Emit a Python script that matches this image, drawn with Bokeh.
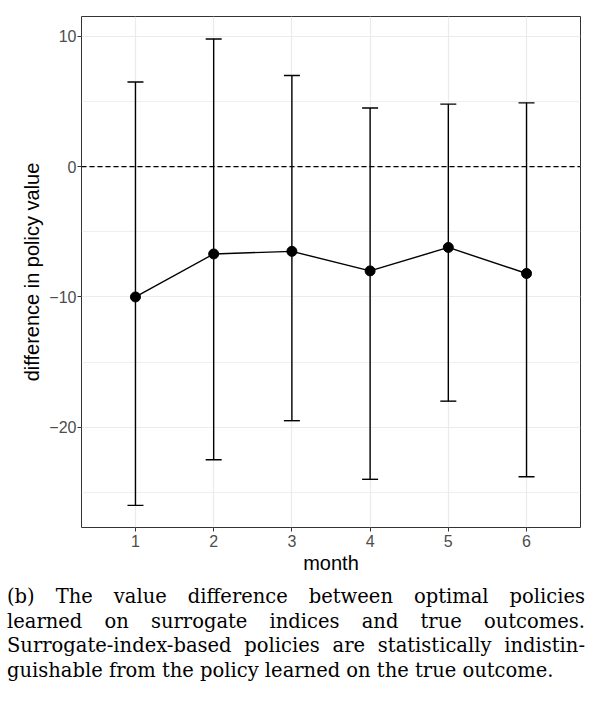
from bokeh.plotting import figure
from bokeh.models import ColumnDataSource, Whisker, TeeHead, Span, FixedTicker, Div, Range1d
from bokeh.layouts import column
from bokeh.embed import file_html
from bokeh.resources import INLINE

months = [1, 2, 3, 4, 5, 6]
estimate = [-10.0, -6.7, -6.5, -8.0, -6.2, -8.2]
upper = [6.5, 9.8, 7.0, 4.5, 4.8, 4.9]
lower = [-26.0, -22.5, -19.5, -24.0, -18.0, -23.8]

y_ticks = [-20, -10, 0, 10]
y_minor = [-25, -15, -5, 5]
y_tick_labels = ["\u221220", "\u221210", "0", "10"]
x_tick_labels = ["1", "2", "3", "4", "5", "6"]

x_label = "month"
y_label = "difference in policy value"

caption_lines = [
    "(b) The value difference between optimal policies",
    "learned on surrogate indices and true outcomes.",
    "Surrogate-index-based policies are statistically indistin-",
    "guishable from the policy learned on the true outcome.",
]

src = ColumnDataSource(dict(month=months, est=estimate, upper=upper, lower=lower))

FIG_H = 580
FIG_W = 592
p = figure(width=FIG_W, height=FIG_H, output_backend="svg", toolbar_location=None,
           x_range=Range1d(0.31, 6.69), y_range=Range1d(-27.7, 11.53),
           min_border_left=81, min_border_right=FIG_W - 580, min_border_top=16,
           min_border_bottom=FIG_H - 527)

p.background_fill_color = "white"
p.border_fill_color = "white"
p.outline_line_color = "#333333"
p.outline_line_width = 1

# grid
p.xgrid.ticker = FixedTicker(ticks=months)
p.xgrid.grid_line_color = "#EBEBEB"
p.xgrid.grid_line_width = 1.2
p.ygrid.grid_line_color = "#EBEBEB"
p.ygrid.grid_line_width = 1.2
p.ygrid.minor_grid_line_color = "#EBEBEB"
p.ygrid.minor_grid_line_width = 0.8

# axes
p.xaxis.ticker = FixedTicker(ticks=months)
p.xaxis.major_label_overrides = {m: l for m, l in zip(months, x_tick_labels)}
p.yaxis.ticker = FixedTicker(ticks=y_ticks, minor_ticks=y_minor)
p.yaxis.major_label_overrides = {t: l for t, l in zip(y_ticks, y_tick_labels)}

for ax in (p.xaxis, p.yaxis):
    ax.axis_line_color = None
    ax.major_tick_line_color = "#333333"
    ax.major_tick_out = 4
    ax.major_tick_in = 0
    ax.minor_tick_line_color = None
    ax.major_label_text_font = "Liberation Sans"
    ax.major_label_text_font_size = "16px"
    ax.major_label_text_color = "#4D4D4D"
    ax.axis_label_text_font = "Liberation Sans"
    ax.axis_label_text_font_size = "20px"
    ax.axis_label_text_font_style = "normal"
    ax.axis_label_text_color = "black"

p.xaxis.axis_label = x_label
p.yaxis.axis_label = y_label
p.xaxis.major_label_standoff = 3
p.yaxis.major_label_standoff = 1
p.xaxis.axis_label_standoff = 2
p.yaxis.axis_label_standoff = 3

# zero reference line
p.add_layout(Span(location=0, dimension="width", line_color="black",
                  line_width=1.3, line_dash="5 3"))

# error bars
w = Whisker(source=src, base="month", upper="upper", lower="lower",
            line_color="black", line_width=1.4,
            upper_head=TeeHead(size=16, line_color="black", line_width=1.4),
            lower_head=TeeHead(size=16, line_color="black", line_width=1.4))
p.add_layout(w)

p.line("month", "est", source=src, line_color="black", line_width=1.4)
p.scatter("month", "est", source=src, size=10, fill_color="black", line_color="black")

line_style_j = "text-align:justify;text-align-last:justify;white-space:nowrap;"
line_style_l = "text-align:left;white-space:nowrap;"
html = "".join(
    f'<div style="{line_style_j if i < len(caption_lines) - 1 else line_style_l}">{t}</div>'
    for i, t in enumerate(caption_lines)
)
div = Div(text=f'<div style="font-family:\'DejaVu Serif\';font-size:19.5px;line-height:24.5px;color:#000;width:578px;margin-left:2px;">{html}</div>',
          width=FIG_W)

layout = column(p, div, spacing=0)
open("out.html", "w").write(file_html(layout, INLINE))
